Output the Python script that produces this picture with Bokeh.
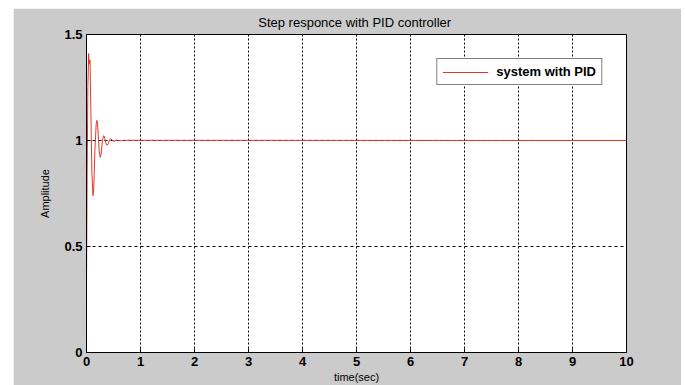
from bokeh.plotting import figure
from bokeh.models import Range1d, FixedTicker, Legend, LegendItem, ColumnDataSource
from bokeh.embed import file_html
from bokeh.resources import INLINE

# ---- data ----
t = [0.0, 0.001, 0.012, 0.025, 0.04, 0.05, 0.065, 0.08, 0.10, 0.12, 0.135, 0.155,
     0.18, 0.195, 0.21, 0.235, 0.255, 0.27, 0.295, 0.315, 0.33, 0.355, 0.38, 0.40,
     0.43, 0.45, 0.48, 0.51, 0.55, 0.60, 0.65, 0.70, 10.0]
amplitude = [0.0, 0.36, 0.84, 1.25, 1.41, 1.36, 1.38, 1.15, 0.85, 0.74, 0.78, 0.95,
             1.08, 1.095, 1.06, 0.95, 0.92, 0.935, 1.0, 1.022, 1.02, 0.99, 0.978, 0.985,
             1.004, 1.008, 1.0, 0.996, 1.002, 1.0, 0.999, 1.001, 1.0]
x_ticks = [0, 1, 2, 3, 4, 5, 6, 7, 8, 9, 10]
y_ticks = [0, 0.5, 1, 1.5]
y_tick_labels = ["0", "0.5", "1", "1.5"]
series_name = "system with PID"
title_text = "Step  responce with PID controller"

FONT = "'Liberation Sans', Arial, sans-serif"
GRAY = "#cbcbcb"
RED = "#e2382a"

p = figure(width=668, height=377, output_backend="svg", toolbar_location=None,
           x_range=Range1d(0, 10), y_range=Range1d(0, 1.5),
           min_border_left=73, min_border_right=55, min_border_top=24, min_border_bottom=33,
           background_fill_color="white", border_fill_color=GRAY)
p.margin = (8, 0, 0, 13)

p.title.text = title_text
p.title.align = "center"
p.title.text_font = FONT
p.title.text_font_size = "13px"
p.title.text_font_style = "normal"
p.title.text_color = "black"
p.title.standoff = 9

p.outline_line_color = "black"
p.outline_line_width = 1
p.outline_line_alpha = 1

src = ColumnDataSource(dict(t=t, a=amplitude))
r = p.line("t", "a", source=src, line_color=RED, line_width=1)

p.xaxis.ticker = FixedTicker(ticks=x_ticks)
p.yaxis.ticker = FixedTicker(ticks=y_ticks)
p.yaxis.major_label_overrides = {v: s for v, s in zip(y_ticks, y_tick_labels)}
p.xaxis.major_label_overrides = {v: str(v) for v in x_ticks}

for ax in (p.xaxis[0], p.yaxis[0]):
    ax.major_tick_in = 4
    ax.major_tick_out = 0
    ax.minor_tick_line_color = None
    ax.axis_line_color = "black"
    ax.major_tick_line_color = "black"
    ax.major_label_text_font = FONT
    ax.major_label_text_font_size = "13px"
    ax.major_label_text_font_style = "bold"
    ax.major_label_text_color = "black"
    ax.axis_label_text_font = FONT
    ax.axis_label_text_font_size = "11px"
    ax.axis_label_text_font_style = "normal"
    ax.axis_label_text_color = "black"

p.xaxis.axis_label = "time(sec)"
p.yaxis.axis_label = "Amplitude"
p.xaxis.major_label_standoff = 4
p.xaxis.axis_label_standoff = 2
p.yaxis.major_label_standoff = 4
p.yaxis.axis_label_standoff = 10

p.xgrid.ticker = FixedTicker(ticks=x_ticks)
p.ygrid.ticker = FixedTicker(ticks=y_ticks)
p.xgrid.grid_line_color = "black"
p.xgrid.grid_line_dash = "2 2"
p.xgrid.grid_line_width = 1
p.ygrid.grid_line_color = "black"
p.ygrid.grid_line_dash = "3 3"
p.ygrid.grid_line_width = 1

legend = Legend(items=[LegendItem(label=series_name, renderers=[r])],
                location="top_right")
legend.margin = 24
legend.padding = 5
legend.glyph_width = 46
legend.glyph_height = 14
legend.label_standoff = 8
legend.label_text_font = FONT
legend.label_text_font_size = "13px"
legend.label_text_font_style = "bold"
legend.label_text_color = "black"
legend.border_line_color = "black"
legend.border_line_width = 1
legend.background_fill_color = "white"
legend.background_fill_alpha = 1
p.add_layout(legend, "center")

open("out.html", "w").write(file_html(p, INLINE))
